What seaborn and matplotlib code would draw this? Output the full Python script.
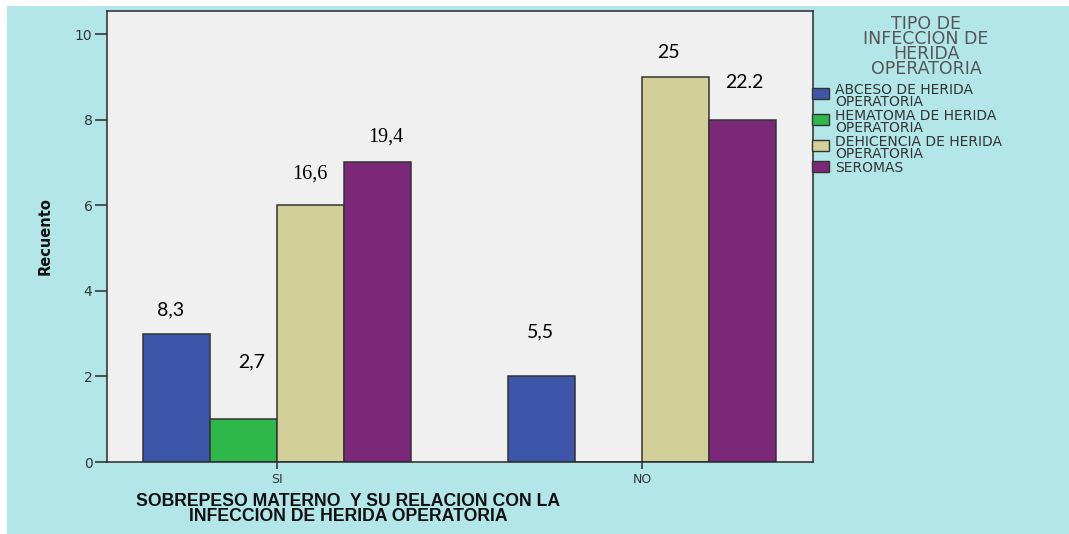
import matplotlib
matplotlib.use("Agg")
import matplotlib.pyplot as plt
from matplotlib.patches import Rectangle
import seaborn as sns
import pandas as pd

# ---- data ----
categories = ["SI", "NO"]
infection_types = [
    "ABCESO DE HERIDA\nOPERATORIA",
    "HEMATOMA DE HERIDA\nOPERATORIA",
    "DEHICENCIA DE HERIDA\nOPERATORIA",
    "SEROMAS",
]
counts_si = [3, 1, 6, 7]
counts_no = [2, 0, 9, 8]
y_ticks = [0, 2, 4, 6, 8, 10]
legend_title = "TIPO DE\nINFECCION DE\nHERIDA\nOPERATORIA"
x_title = "SOBREPESO MATERNO  Y SU RELACION CON LA\nINFECCION DE HERIDA OPERATORIA"
y_title = "Recuento"

# percentage annotations (text, x in data, y in data, serif?)
annot_text = ["8,3", "2,7", "16,6", "19,4", "5,5", "25", "22.2"]
annot_x = [-0.293, -0.071, 0.090, 0.299, 0.721, 1.071, 1.279]
annot_y = [3.55, 2.34, 6.72, 7.59, 3.04, 9.58, 8.86]
annot_serif = [False, False, True, True, False, False, False]

# ---- style ----
colors = ["#3d56a9", "#2eb84b", "#d3cf98", "#7b2878"]
BG = "#b3e6e8"
PLOT_BG = "#f0f0f0"
W, H = 1069, 534

rows = []
for cat, vals in zip(categories, [counts_si, counts_no]):
    for t, v in zip(infection_types, vals):
        rows.append({"sobrepeso": cat, "tipo": t, "recuento": v})
df = pd.DataFrame(rows)

sns.set_theme(style="white")
plt.rcParams["font.family"] = ["DejaVu Sans"]

fig = plt.figure(figsize=(W / 100, H / 100), dpi=100, facecolor="white")
fig.patches.append(Rectangle((7 / W, 0), 1 - 7 / W, 1 - 6 / H,
                             transform=fig.transFigure, facecolor=BG,
                             edgecolor="none", zorder=-10))


def fx(px):
    return px / W


def fy(py):
    return 1 - py / H


ax = fig.add_axes([fx(107), fy(462), (813 - 107) / W, (462 - 11) / H])
ax.set_facecolor(PLOT_BG)

sns.barplot(data=df, x="sobrepeso", y="recuento", hue="tipo",
            order=categories, hue_order=infection_types, palette=colors,
            width=0.735, gap=0, saturation=1, errorbar=None,
            edgecolor="#333333", linewidth=1.1, legend=False, ax=ax)

ax.set_xlim(-0.466, 1.468)
ax.set_ylim(0, 10.54)
ax.set_yticks(y_ticks)
ax.set_xlabel("")
ax.set_ylabel("")
for sp in ax.spines.values():
    sp.set_visible(True)
    sp.set_color("#2a2a2a")
    sp.set_linewidth(1.1)
ax.tick_params(axis="y", direction="out", length=8.5, width=1.1,
               color="#2a2a2a", labelsize=10, labelcolor="#333333", pad=2,
               left=True)
ax.tick_params(axis="x", direction="out", length=5, width=1.1,
               color="#2a2a2a", labelsize=9, labelcolor="#333333", pad=3,
               bottom=True)

for t, xv, yv, serif in zip(annot_text, annot_x, annot_y, annot_serif):
    if serif:
        ax.text(xv, yv, t, ha="center", va="center", fontsize=14.5,
                family=["Liberation Serif", "DejaVu Serif"], color="black")
    else:
        ax.text(xv, yv, t, ha="center", va="center", fontsize=14,
                family=["Lato", "DejaVu Sans"], color="black")

# axis titles
fig.text(fx(348), fy(509), x_title, ha="center", va="center",
         fontsize=12.7, fontweight="bold", linespacing=0.9,
         family=["Liberation Sans", "DejaVu Sans"], color="#111111")
fig.text(fx(45), fy(236), y_title, ha="center", va="center", rotation=90,
         fontsize=10.5, fontweight="bold", color="#111111")

# legend (drawn from the palette and labels)
fig.text(fx(926), fy(46.5), legend_title, ha="center", va="center",
         multialignment="center", fontsize=12.5, linespacing=0.78,
         color="#555555")

entry_first_line = [89, 115, 140.5, 166.5]
square_top = [88, 114, 140, 161]
for lab, col, y0, sq in zip(infection_types, colors, entry_first_line, square_top):
    fig.patches.append(Rectangle((fx(812), fy(sq + 11)), 17 / W, 11 / H,
                                 transform=fig.transFigure, facecolor=col,
                                 edgecolor="#333333", linewidth=1.0))
    fig.text(fx(835), fy(y0 - 5.5), lab, ha="left", va="top",
             fontsize=10, linespacing=0.78, color="#333333")

fig.savefig("out.png", dpi=100, facecolor=fig.get_facecolor())
